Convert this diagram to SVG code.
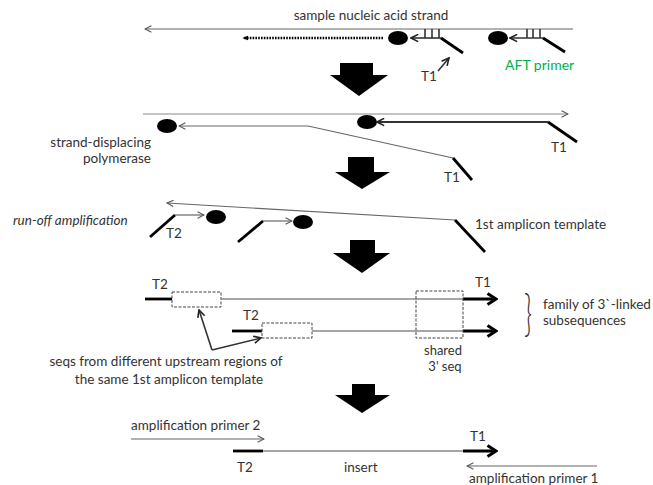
<svg xmlns="http://www.w3.org/2000/svg" width="653" height="485" viewBox="0 0 653 485">
<defs>
<style>
.t{font-family:Lato,"Liberation Sans",sans-serif;font-size:13.5px;fill:#333}
.it{font-style:italic}
.thin{stroke:#666;stroke-width:1.2;fill:none}
.mid{stroke:#333;stroke-width:1.6;fill:none}
.thick{stroke:#000;stroke-width:2.8;fill:none;stroke-linecap:butt}
.box{stroke:#444;stroke-width:1;fill:none;stroke-dasharray:3 1.5}
.blk{fill:#000}
.gr{stroke:#888;stroke-width:1.6;fill:none}
</style>
<marker id="ch" viewBox="0 0 10 10" refX="9" refY="5" markerWidth="8" markerHeight="8" markerUnits="userSpaceOnUse" orient="auto-start-reverse"><path d="M1,1 L9,5 L1,9" fill="none" stroke="#555" stroke-width="1.3"/></marker>
<marker id="chd" viewBox="0 0 10 10" refX="9" refY="5" markerWidth="9" markerHeight="9" markerUnits="userSpaceOnUse" orient="auto-start-reverse"><path d="M1,1 L9,5 L1,9" fill="none" stroke="#222" stroke-width="1.8"/></marker>
<marker id="tri" viewBox="0 0 10 10" refX="9" refY="5" markerWidth="6" markerHeight="6" markerUnits="userSpaceOnUse" orient="auto-start-reverse"><path d="M0,1 L10,5 L0,9 Z" fill="#000"/></marker>
<marker id="big" viewBox="0 0 12 14" refX="10" refY="7" markerWidth="12" markerHeight="14" markerUnits="userSpaceOnUse" orient="auto"><path d="M1.5,1.5 L10,7 L1.5,12.5" fill="none" stroke="#000" stroke-width="3"/></marker>
</defs>
<rect width="653" height="485" fill="#fff"/>

<!-- Stage 1 -->
<g id="stage1">
<text class="t" x="371" y="20" text-anchor="middle">sample nucleic acid strand</text>
<g id="strand1"><line class="thin" x1="573" y1="29" x2="145" y2="29" marker-end="url(#ch)"/></g>
<g id="dotted"><line x1="383" y1="38" x2="243" y2="38" stroke="#000" stroke-width="2.5" stroke-dasharray="1.6 1.2" marker-end="url(#tri)"/></g>
<g id="pol1"><ellipse class="blk" cx="398" cy="38" rx="10" ry="7"/></g>
<g id="primer1">
<line class="mid" x1="441" y1="38" x2="411" y2="38" marker-end="url(#chd)"/>
<path class="mid" d="M425,29 V38 M432,29 V38 M439,29 V38" stroke-width="1.2"/>
<line class="thick" x1="441" y1="38" x2="463" y2="53"/>
</g>
<g id="t1a">
<text class="t" x="421" y="81">T1</text>
<line class="mid" x1="438" y1="71" x2="449" y2="58" stroke-width="1.3" marker-end="url(#chd)"/>
</g>
<g id="pol2"><ellipse class="blk" cx="498" cy="38" rx="10" ry="7"/></g>
<g id="primer2">
<line class="mid" x1="543" y1="38" x2="510" y2="38" marker-end="url(#chd)"/>
<path class="mid" d="M527,29 V38 M533,29 V38 M540,29 V38" stroke-width="1.2"/>
<line class="thick" x1="543" y1="38" x2="565" y2="52"/>
</g>
<text class="t" x="505" y="70" style="fill:#00b050;font-size:14px">AFT primer</text>
</g>

<g id="arrows" class="blk">
<path d="M340,63 H373 V75 H388 L359,96 L330,75 H340 Z"/>
<path d="M348,157 H374 V172 H390 L362,189 L335,172 H348 Z"/>
<path d="M350,240 H375 V253 H390 L362,273 L333,253 H350 Z"/>
<path d="M352,384 H375 V395 H390 L362,413 L335,395 H352 Z"/>
</g>

<!-- Stage 2 -->
<g id="stage2">
<g id="strand2"><line x1="143" y1="114" x2="568" y2="114" stroke="#888" stroke-width="1.1" marker-end="url(#ch)"/></g>
<g id="pol3"><ellipse class="blk" cx="167" cy="126" rx="10" ry="7"/></g>
<g id="displaced">
<line class="thin" x1="308" y1="126" x2="179" y2="126" marker-end="url(#ch)"/>
<line class="thin" x1="308" y1="126" x2="453" y2="158" stroke="#777"/>
<line class="thick" x1="453" y1="158" x2="472" y2="180"/>
<text class="t" x="444" y="182">T1</text>
</g>
<g id="pol4"><ellipse class="blk" cx="367" cy="122" rx="10" ry="7"/></g>
<g id="newstrand">
<line x1="548" y1="122" x2="377" y2="122" stroke="#333" stroke-width="2" marker-end="url(#chd)"/>
<line class="thick" x1="548" y1="122" x2="577" y2="142"/>
<text class="t" x="551" y="152">T1</text>
</g>
<text class="t" x="151" y="147" text-anchor="end">strand-displacing</text>
<text class="t" x="151" y="163" text-anchor="end">polymerase</text>
</g>

<!-- Stage 3 -->
<g id="stage3">
<text class="t it" x="13" y="225">run-off amplification</text>
<g id="template"><line class="thin" x1="455" y1="220" x2="167" y2="203" marker-end="url(#ch)"/>
<line class="thick" x1="455" y1="220" x2="485" y2="252"/></g>
<text class="t" x="475" y="229">1st amplicon template</text>
<g id="primerA">
<line class="thick" x1="150" y1="237" x2="175" y2="215"/>
<line class="thin" x1="175" y1="215" x2="204" y2="215" stroke="#444" marker-end="url(#ch)"/>
<ellipse class="blk" cx="216" cy="217" rx="10" ry="7"/>
<text class="t" x="166" y="238">T2</text>
</g>
<g id="primerB">
<line class="thick" x1="238" y1="242" x2="263" y2="221"/>
<line class="thin" x1="263" y1="221" x2="292" y2="221" stroke="#444" marker-end="url(#ch)"/>
<ellipse class="blk" cx="303" cy="222" rx="10" ry="7"/>
</g>
</g>

<!-- Stage 4 -->
<g id="stage4">
<g id="seq1">
<line class="thick" x1="145" y1="299" x2="172" y2="299"/>
<rect class="box" x="172" y="292" width="49" height="15"/>
<line class="gr" x1="221" y1="299" x2="463" y2="299"/>
<line class="thick" x1="463" y1="299" x2="496" y2="299" stroke-width="3" marker-end="url(#big)"/>
<text class="t" x="152" y="289">T2</text>
<text class="t" x="475" y="287">T1</text>
</g>
<g id="seq2">
<line class="thick" x1="232" y1="331" x2="262" y2="331"/>
<rect class="box" x="262" y="323" width="50" height="15"/>
<line class="gr" x1="312" y1="331" x2="463" y2="331"/>
<line class="thick" x1="463" y1="331" x2="496" y2="331" stroke-width="3" marker-end="url(#big)"/>
<text class="t" x="243" y="320">T2</text>
</g>
<rect class="box" x="416" y="291" width="47" height="47"/>
<text class="t" x="443" y="355" text-anchor="middle" style="font-size:13px">shared</text>
<text class="t" x="445" y="371" text-anchor="middle" style="font-size:13px">3' seq</text>
<text class="t" x="0" y="0" style="font-size:50px;font-weight:300" transform="translate(524,330) scale(0.55,1)">}</text>
<text class="t" x="543" y="309">family of 3`-linked</text>
<text class="t" x="543" y="325">subsequences</text>
<g id="pointers">
<line class="mid" x1="212" y1="350" x2="199" y2="310" stroke="#444" stroke-width="1.2" marker-end="url(#chd)"/>
<line class="mid" x1="212" y1="350" x2="261" y2="338" stroke="#444" stroke-width="1.2" marker-end="url(#chd)"/>
</g>
<text class="t" x="166" y="366" text-anchor="middle">seqs from different upstream regions of</text>
<text class="t" x="169" y="384" text-anchor="middle">the same 1st amplicon template</text>
</g>

<!-- Stage 5 -->
<g id="stage5">
<text class="t" x="131" y="430">amplification primer 2</text>
<g id="ap2"><line class="thin" x1="131" y1="439" x2="264" y2="439" stroke="#777" marker-end="url(#ch)"/></g>
<g id="product">
<line class="thick" x1="233" y1="451" x2="263" y2="451"/>
<line class="gr" x1="263" y1="451" x2="463" y2="451"/>
<line class="thick" x1="463" y1="451" x2="496" y2="451" stroke-width="3" marker-end="url(#big)"/>
</g>
<text class="t" x="470" y="441">T1</text>
<text class="t" x="237" y="472">T2</text>
<text class="t" x="344" y="472">insert</text>
<g id="ap1"><line class="thin" x1="597" y1="466" x2="467" y2="466" stroke="#777" marker-end="url(#ch)"/></g>
<text class="t" x="469" y="483">amplification primer 1</text>
</g>
</svg>
